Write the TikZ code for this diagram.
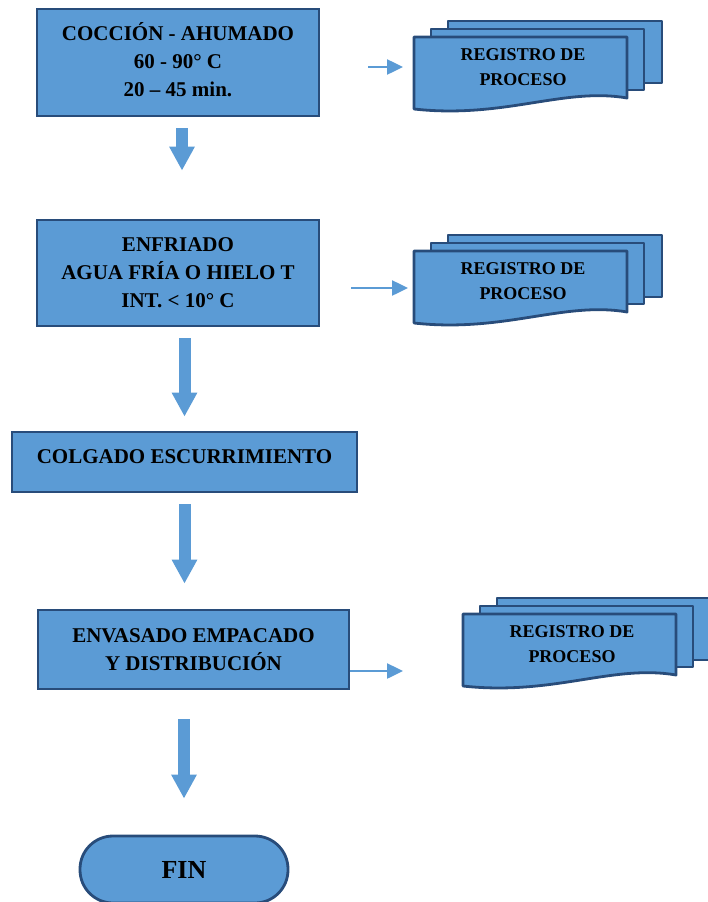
\documentclass[tikz,border=0pt]{standalone}
\usepackage{fontspec}
\setmainfont{Liberation Serif}
\usetikzlibrary{arrows.meta}

\definecolor{procfill}{RGB}{91,155,213}
\definecolor{procline}{RGB}{40,76,122}

\tikzset{
  procbox/.style={draw=procline, fill=procfill, line width=2.8pt, align=center,
    inner sep=0pt, font=\fontsize{21}{28}\selectfont\bfseries},
  endbox/.style={procbox, rounded corners=33pt,
    font=\fontsize{26}{30}\selectfont\bfseries},
  docsheet/.style={draw=procline, fill=procfill, line width=2.8pt, line join=round},
  doctext/.style={align=center, font=\fontsize{18}{25}\selectfont\bfseries},
  downarrow/.style={draw=procfill, line width=12pt,
    -{Triangle[length=24pt,width=24pt]}},
  sidearrow/.style={draw=procfill, line width=2.5pt,
    -{Triangle[length=16pt,width=15pt]}},
}

% stacked record sheets: name, left, top, arrow height
\newcommand{\registro}[4]{%
  \begin{scope}[shift={(#2,#3)}]
    \filldraw[docsheet] (34,-16) rectangle (248,46);
    \filldraw[docsheet] (17,-8) rectangle (230,53);
    \filldraw[docsheet] (0,0) -- (213,0) -- (213,61)
      .. controls (150,50) and (90,82) .. (0,72) -- cycle;
    \node[doctext] (#1) at (109,30) {REGISTRO DE\\PROCESO};
    \coordinate (#1-in) at (0,#4);
  \end{scope}}

\begin{document}
\begin{tikzpicture}[x=1pt, y=-1pt]
\useasboundingbox (0,0) rectangle (708,902);
\begin{scope}
  \clip (0,0) rectangle (708,902);
  % Process steps
  \node[procbox, minimum width=282pt, minimum height=107pt, text depth=7pt] (coccion)
    at (178,62.5) {COCCIÓN - AHUMADO\\60 - 90° C\\20 – 45 min.};
  \node[procbox, minimum width=282pt, minimum height=106pt] (enfriado) at (178,273)
    {ENFRIADO\\AGUA FRÍA O HIELO T\\INT. < 10° C};
  \node[procbox, minimum width=345pt, minimum height=60pt, text depth=10pt] (colgado)
    at (184.5,462) {COLGADO ESCURRIMIENTO};
  \node[procbox, minimum width=311pt, minimum height=79pt] (envasado) at (193.5,649.5)
    {ENVASADO EMPACADO\\Y DISTRIBUCIÓN};
  \node[endbox, minimum width=208pt, minimum height=67pt] (fin) at (184,869.5) {FIN};
  % Records
  \registro{reg1}{414}{37}{30}
  \registro{reg2}{414}{251}{37}
  \registro{reg3}{463}{614}{57}
  % Flow arrows
  \draw[downarrow, shorten <=11pt, shorten >=48pt]
    ([xshift=4pt]coccion.south) -- ([xshift=4pt]enfriado.north);
  \draw[downarrow, shorten <=11pt, shorten >=14pt]
    (colgado.north |- enfriado.south) -- (colgado.north);
  \draw[downarrow, shorten <=11pt, shorten >=25pt]
    (colgado.south) -- (colgado.south |- envasado.north);
  \draw[downarrow, shorten <=29pt, shorten >=36pt]
    (fin.north |- envasado.south) -- (fin.north);
  % Record arrows
  \draw[sidearrow, shorten <=48pt, shorten >=11pt] (coccion.east |- reg1-in) -- (reg1-in);
  \draw[sidearrow, shorten <=31pt, shorten >=6pt] (enfriado.east |- reg2-in) -- (reg2-in);
  \draw[sidearrow, shorten >=60pt] (envasado.east |- reg3-in) -- (reg3-in);
\end{scope}
\end{tikzpicture}
\end{document}
